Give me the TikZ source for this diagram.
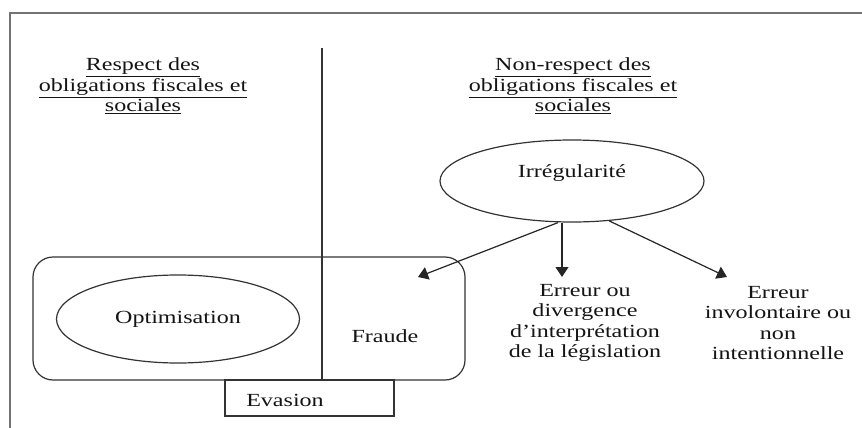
\documentclass[tikz,border=0pt]{standalone}
\usepackage{fontspec}
\setmainfont{Liberation Serif}[FakeStretch=1.3]
\usetikzlibrary{shapes.geometric,arrows.meta}
\begin{document}
\begin{tikzpicture}[x=1pt,y=-1pt,
  txt/.style={font=\fontsize{18.5}{20.5}\selectfont, align=center, inner sep=0pt, text=black!92},
  outl/.style={draw=black!80, line width=1.2pt},
  arr/.style={draw=black!85, line width=1.2pt, -{Triangle[length=10pt,width=13pt]}},
  framestyle/.style={draw=black!55, line width=1.8pt}
]
\useasboundingbox (0,0) rectangle (862,428);
\clip (0,0) rectangle (862,428);
\fill[white] (0,0) rectangle (862,428);
% outer frame (cropped at right and bottom)
\coordinate (fbl) at (10,440);
\coordinate (ftl) at (10,13);
\coordinate (ftr) at (880,13);
\draw[framestyle] (fbl) -- (ftl) -- (ftr);
% headers
\node[txt] (hleft) at (143,86) {\underline{Respect des}\\\underline{obligations fiscales et}\\\underline{sociales}};
\node[txt] (hright) at (573,86) {\underline{Non-respect des}\\\underline{obligations fiscales et}\\\underline{sociales}};
% big rounded box
\node[outl, rectangle, rounded corners=20pt, minimum width=432pt, minimum height=123pt, inner sep=0pt] (evbox) at (249,318.5) {};
% divider
\coordinate (dtop) at (322,48);
\draw[outl] (dtop) -- (dtop |- evbox.south);
% optimisation
\node[outl, ellipse, minimum width=243pt, minimum height=88pt, inner sep=0pt, txt] (optim) at (178,319) {Optimisation};
% fraude
\node[txt] (fraude) at (385,336) {Fraude};
% evasion box
\node[outl, rectangle, minimum width=169pt, minimum height=36pt, inner sep=0pt] (evasion) at (309.5,398) {};
\node[txt] (evtext) at (285,400) {Evasion};
% irregularite
\node[outl, ellipse, minimum width=264pt, minimum height=82pt, inner sep=0pt,
  label={[txt, yshift=8pt]center:Irrégularité}] (irreg) at (572,181) {};
% targets
\node[txt] (err1) at (585,323) {Erreur ou\\divergence\\d’interprétation\\de la législation};
\node[txt] (err2) at (778,323) {Erreur\\involontaire ou\\non\\intentionnelle};
\coordinate (tipF) at (418,277);
\coordinate (tip1) at (562,277);
\coordinate (tip2) at (727,277);
\draw[arr] ([xshift=-14pt]irreg.south) -- (tipF);
\draw[arr] ([xshift=-10pt]irreg.south) -- (tip1);
\draw[arr] (irreg.-47) -- (tip2);
\end{tikzpicture}
\end{document}
